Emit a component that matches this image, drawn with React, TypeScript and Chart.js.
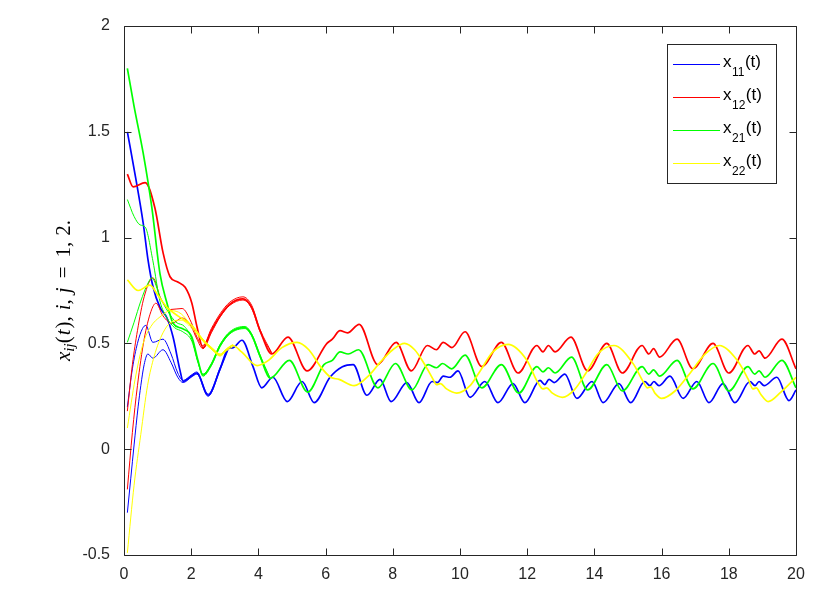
import React, { useEffect, useRef } from "react";
import { Chart, registerables } from "chart.js";

Chart.register(...registerables);

// ---- axes ----
const xMin = 0;
const xMax = 20;
const xStep = 2;
const yMin = -0.5;
const yMax = 2;
const yStep = 0.5;

const legendLabels = ["11", "12", "21", "22"];

// ---- x11 (blue) ----
const blueT = [0.1,0.35,0.57,0.71,0.86,1.07,1.28,1.46,1.67,1.76,2.0,2.17,2.5,2.86,3.1,3.25,3.51,3.84,4.1,4.43,4.86,5.3,5.66,6.13,6.5,6.82,7.23,7.62,7.95,8.42,8.78,9.17,9.33,9.5,9.7,9.94,10.3,10.74,11.13,11.58,11.93,12.38,12.52,12.65,12.8,13.12,13.48,13.93,14.26,14.73,15.08,15.5,15.65,15.77,15.92,16.25,16.64,17.05,17.41,17.83,18.18,18.63,18.78,18.9,19.05,19.43,19.79,20.0];
const blueV = [1.50,1.28,1.07,0.90,0.77,0.67,0.62,0.53,0.37,0.32,0.345,0.36,0.255,0.38,0.475,0.48,0.515,0.39,0.29,0.34,0.225,0.32,0.22,0.34,0.39,0.40,0.255,0.33,0.225,0.315,0.22,0.32,0.315,0.345,0.34,0.37,0.245,0.32,0.22,0.31,0.22,0.325,0.305,0.33,0.315,0.355,0.24,0.32,0.22,0.31,0.22,0.32,0.30,0.32,0.30,0.345,0.24,0.32,0.22,0.31,0.22,0.32,0.30,0.32,0.30,0.34,0.23,0.28];
const blue2T = [0.1,0.25,0.4,0.55,0.65,0.86,1.16,1.4,1.6,1.76,2.0,2.17,2.5,2.86,3.1];
const blue2V = [0.20,0.38,0.50,0.57,0.585,0.505,0.52,0.45,0.36,0.325,0.35,0.365,0.26,0.385,0.475];
const blue3T = [0.1,0.2,0.3,0.42,0.5,0.6,0.71,0.86,1.16,1.4,1.6,1.76,2.0,2.17,2.5,2.86,3.1];
const blue3V = [-0.30,-0.14,0.02,0.20,0.30,0.40,0.45,0.43,0.47,0.41,0.34,0.315,0.34,0.355,0.25,0.375,0.47];

// ---- x12 (red) ----
const redT = [0.1,0.27,0.63,0.92,1.16,1.37,1.6,1.82,2.02,2.17,2.35,2.6,2.86,3.15,3.54,3.8,4.05,4.4,4.88,5.45,6.04,6.2,6.43,6.65,7.0,7.55,8.1,8.55,9.03,9.3,9.5,9.76,10.15,10.65,11.23,11.73,12.29,12.47,12.63,12.83,13.3,13.8,14.37,14.83,15.42,15.62,15.76,15.94,16.46,16.93,17.53,18.0,18.57,18.77,18.9,19.08,19.58,20.0];
const redV = [1.30,1.24,1.26,1.14,0.93,0.815,0.79,0.765,0.69,0.58,0.48,0.56,0.63,0.685,0.71,0.67,0.56,0.45,0.53,0.37,0.50,0.52,0.56,0.55,0.59,0.40,0.505,0.37,0.49,0.47,0.505,0.48,0.555,0.39,0.505,0.36,0.49,0.46,0.49,0.46,0.53,0.37,0.50,0.36,0.49,0.45,0.475,0.435,0.52,0.38,0.50,0.36,0.49,0.45,0.465,0.43,0.52,0.38];
const red2T = [0.1,0.25,0.4,0.6,0.86,1.1,1.37,1.73,2.0,2.17,2.35,2.6,2.86,3.15,3.54,3.8,4.05,4.4];
const red2V = [0.18,0.40,0.56,0.72,0.81,0.71,0.66,0.665,0.60,0.53,0.49,0.57,0.64,0.695,0.72,0.68,0.565,0.455];
const red3T = [0.1,0.25,0.4,0.6,0.8,0.95,1.16,1.43,1.73,2.0,2.17,2.35,2.6,2.86,3.15,3.54,3.8,4.05,4.4];
const red3V = [-0.19,0.08,0.30,0.52,0.65,0.69,0.63,0.595,0.62,0.58,0.52,0.475,0.55,0.625,0.68,0.705,0.665,0.555,0.45];

// ---- x21 (green) ----
const greenT = [0.1,0.3,0.57,0.83,1.07,1.28,1.46,1.73,2.02,2.2,2.35,2.6,2.86,3.15,3.6,3.8,4.05,4.35,4.92,5.47,5.95,6.2,6.43,6.67,6.98,7.56,8.08,8.57,9.05,9.3,9.48,9.75,10.15,10.65,11.23,11.75,12.29,12.47,12.63,12.83,13.32,13.8,14.37,14.83,15.42,15.62,15.76,15.94,16.46,16.93,17.53,18.0,18.57,18.77,18.9,19.08,19.58,20.0];
const greenV = [1.80,1.62,1.40,1.14,0.83,0.69,0.595,0.57,0.53,0.42,0.35,0.40,0.49,0.55,0.575,0.54,0.44,0.335,0.42,0.27,0.40,0.42,0.46,0.45,0.47,0.29,0.405,0.28,0.40,0.385,0.405,0.38,0.445,0.29,0.40,0.265,0.39,0.365,0.385,0.36,0.435,0.28,0.40,0.275,0.39,0.355,0.375,0.345,0.42,0.285,0.405,0.275,0.39,0.355,0.37,0.34,0.42,0.29];
const green2T = [0.1,0.3,0.48,0.63,0.86,1.07,1.28,1.5,1.75,2.02,2.2,2.35,2.6,2.86,3.15,3.6,3.8,4.05,4.35];
const green2V = [1.18,1.10,1.06,1.05,0.89,0.70,0.62,0.575,0.555,0.51,0.41,0.355,0.405,0.495,0.555,0.58,0.545,0.445,0.335];
const green3T = [0.1,0.3,0.5,0.7,0.83,1.07,1.31,1.55,1.8,2.02,2.2,2.35,2.6,2.86,3.15,3.6,3.8,4.05,4.35];
const green3V = [0.505,0.60,0.70,0.78,0.81,0.72,0.65,0.60,0.58,0.52,0.415,0.345,0.395,0.485,0.545,0.57,0.535,0.435,0.335];

// ---- x22 (yellow) ----
const yellowT = [0.1,0.42,0.77,1.0,1.28,1.6,2.05,2.35,2.65,2.86,3.05,3.24,3.5,3.96,4.3,4.7,5.15,5.5,5.85,6.15,6.4,6.85,7.3,7.62,8.0,8.35,8.65,8.95,9.2,9.3,9.42,9.6,9.9,10.3,10.6,10.98,11.43,11.99,12.3,12.47,12.58,12.75,13.05,13.4,13.75,14.1,14.58,15.15,15.45,15.58,15.68,15.8,16.0,16.4,16.8,17.3,17.72,18.25,18.58,18.72,18.82,18.95,19.17,19.55,20.0];
const yellowV = [0.80,0.75,0.775,0.73,0.67,0.63,0.58,0.515,0.47,0.445,0.47,0.49,0.46,0.395,0.42,0.48,0.505,0.47,0.39,0.34,0.33,0.30,0.35,0.41,0.47,0.50,0.47,0.40,0.33,0.305,0.31,0.285,0.265,0.30,0.37,0.46,0.495,0.42,0.32,0.285,0.29,0.265,0.245,0.28,0.36,0.45,0.49,0.405,0.32,0.29,0.295,0.265,0.24,0.275,0.35,0.45,0.49,0.42,0.33,0.285,0.29,0.26,0.225,0.27,0.34];
const yellow2T = [0.1,0.33,0.57,0.8,1.07,1.4,1.7,2.0,2.35,2.65,2.86,3.05,3.24];
const yellow2V = [0.10,0.33,0.50,0.58,0.625,0.655,0.64,0.585,0.52,0.475,0.45,0.475,0.495];
const yellow3T = [0.1,0.3,0.5,0.7,0.9,1.16,1.4,1.7,2.0,2.35,2.65,2.86,3.05,3.24];
const yellow3V = [-0.49,-0.17,0.07,0.30,0.44,0.55,0.60,0.61,0.575,0.51,0.465,0.44,0.465,0.485];

const COLORS = ["#0000ff", "#ff0000", "#00ff00", "#ffff00"];
const AXIS_COLOR = "#262626";

function pts(t: number[], v: number[]) {
  return t.map((x, i) => ({ x, y: v[i] }));
}

function line(t: number[], v: number[], color: string, order: number, width: number) {
  return {
    data: pts(t, v),
    borderColor: color,
    backgroundColor: color,
    borderWidth: width,
    pointRadius: 0,
    fill: false,
    cubicInterpolationMode: "monotone" as const,
    order,
  };
}

const boxTicksPlugin = {
  id: "boxTicks",
  afterDatasetsDraw(chart: any) {
    const { ctx, chartArea } = chart;
    const { left, right, top, bottom } = chartArea;
    const xs = chart.scales.x;
    const ys = chart.scales.y;
    ctx.save();
    ctx.strokeStyle = AXIS_COLOR;
    ctx.lineWidth = 1;
    ctx.beginPath();
    ctx.rect(left + 0.5, top + 0.5, right - left, bottom - top);
    const tl = 7;
    for (let v = xMin; v <= xMax + 1e-9; v += xStep) {
      const px = Math.round(xs.getPixelForValue(v)) + 0.5;
      ctx.moveTo(px, bottom + 0.5);
      ctx.lineTo(px, bottom + 0.5 - tl);
      ctx.moveTo(px, top + 0.5);
      ctx.lineTo(px, top + 0.5 + tl);
    }
    for (let v = yMin; v <= yMax + 1e-9; v += yStep) {
      const py = Math.round(ys.getPixelForValue(v)) + 0.5;
      ctx.moveTo(left + 0.5, py);
      ctx.lineTo(left + 0.5 + tl, py);
      ctx.moveTo(right + 0.5, py);
      ctx.lineTo(right + 0.5 - tl, py);
    }
    ctx.stroke();
    ctx.restore();
  },
};

const legendPlugin = {
  id: "texLegend",
  afterDraw(chart: any) {
    const ctx = chart.ctx;
    ctx.save();
    const bx = 667.5, by = 44.5, bw = 109, bh = 139;
    ctx.fillStyle = "#ffffff";
    ctx.fillRect(bx, by, bw, bh);
    ctx.strokeStyle = AXIS_COLOR;
    ctx.lineWidth = 1;
    ctx.strokeRect(bx, by, bw, bh);
    const rows = [64, 97, 130, 163];
    rows.forEach((ry, i) => {
      ctx.strokeStyle = COLORS[i];
      ctx.lineWidth = 1;
      ctx.beginPath();
      ctx.moveTo(673, ry + 0.5);
      ctx.lineTo(720, ry + 0.5);
      ctx.stroke();
      ctx.fillStyle = "#000000";
      ctx.textBaseline = "alphabetic";
      ctx.textAlign = "left";
      let x = 723;
      ctx.font = '17px "Liberation Sans", Arial, sans-serif';
      ctx.fillText("x", x, ry + 3);
      x += ctx.measureText("x").width + 0.5;
      ctx.font = '12px "Liberation Sans", Arial, sans-serif';
      ctx.fillText(legendLabels[i], x, ry + 12);
      x += ctx.measureText(legendLabels[i]).width + 0.5;
      ctx.font = '17px "Liberation Sans", Arial, sans-serif';
      ctx.fillText("(t)", x, ry + 3);
    });
    ctx.restore();
  },
};

const yTitlePlugin = {
  id: "texYTitle",
  afterDraw(chart: any) {
    const ctx = chart.ctx;
    const { top, bottom } = chart.chartArea;
    const fam = '"Liberation Serif", "Times New Roman", serif';
    const big = 21;
    const small = 15;
    const it = `italic ${big}px ${fam}`;
    const up = `${big}px ${fam}`;
    const sub = `italic ${small}px ${fam}`;
    const segs: { t: string; f: string; dy: number; gap?: number }[] = [
      { t: "x", f: it, dy: 0 },
      { t: "ij", f: sub, dy: 4 },
      { t: "(", f: up, dy: 0, gap: 1 },
      { t: "t", f: it, dy: 0, gap: 1 },
      { t: ")", f: up, dy: 0 },
      { t: ",", f: up, dy: 0, gap: 6 },
      { t: "i", f: it, dy: 0 },
      { t: ",", f: up, dy: 0, gap: 6 },
      { t: "j", f: it, dy: 0, gap: 9 },
      { t: "=", f: up, dy: 0, gap: 9 },
      { t: "1", f: up, dy: 0 },
      { t: ",", f: up, dy: 0, gap: 6 },
      { t: "2", f: up, dy: 0 },
      { t: ".", f: up, dy: 0 },
    ];
    ctx.save();
    let total = 0;
    for (const s of segs) {
      ctx.font = s.f;
      total += ctx.measureText(s.t).width + (s.gap || 0);
    }
    ctx.translate(70, (top + bottom) / 2);
    ctx.rotate(-Math.PI / 2);
    ctx.fillStyle = "#000000";
    ctx.textBaseline = "alphabetic";
    ctx.textAlign = "left";
    let x = -total / 2;
    for (const s of segs) {
      ctx.font = s.f;
      ctx.fillText(s.t, x, s.dy);
      x += ctx.measureText(s.t).width + (s.gap || 0);
    }
    ctx.restore();
  },
};

export default function App() {
  const ref = useRef<HTMLCanvasElement | null>(null);

  useEffect(() => {
    if (!ref.current) return;
    const datasets = [
      line(blueT, blueV, COLORS[0], 8, 1.7),
      line(blue2T, blue2V, COLORS[0], 8, 1),
      line(blue3T, blue3V, COLORS[0], 8, 1),
      line(redT, redV, COLORS[1], 6, 1.7),
      line(red2T, red2V, COLORS[1], 6, 1),
      line(red3T, red3V, COLORS[1], 6, 1),
      line(greenT, greenV, COLORS[2], 4, 1.7),
      line(green2T, green2V, COLORS[2], 4, 1),
      line(green3T, green3V, COLORS[2], 4, 1),
      line(yellowT, yellowV, COLORS[3], 2, 1.7),
      line(yellow2T, yellow2V, COLORS[3], 2, 1),
      line(yellow3T, yellow3V, COLORS[3], 2, 1),
    ];
    const tickFont = { family: '"Liberation Sans", Arial, sans-serif', size: 16 };
    const chart = new Chart(ref.current, {
      type: "line",
      data: { datasets },
      options: {
        animation: false,
        responsive: false,
        devicePixelRatio: 1,
        layout: { padding: { left: 0, top: 26, right: 31, bottom: 0 } },
        plugins: {
          legend: { display: false },
          tooltip: { enabled: false },
          title: { display: false },
        },
        scales: {
          x: {
            type: "linear",
            min: xMin,
            max: xMax,
            grid: { display: false, drawTicks: false },
            border: { display: false },
            ticks: {
              stepSize: xStep,
              color: AXIS_COLOR,
              font: tickFont,
              padding: 10,
              maxRotation: 0,
              callback: (v: any) => String(Number(v)),
            },
            afterFit: (s: any) => { s.height = 37; },
          },
          y: {
            type: "linear",
            min: yMin,
            max: yMax,
            grid: { display: false, drawTicks: false },
            border: { display: false },
            ticks: {
              stepSize: yStep,
              color: AXIS_COLOR,
              font: tickFont,
              padding: 14,
              callback: (v: any) => String(Number(v)),
            },
            afterFit: (s: any) => { s.width = 124; },
          },
        },
      } as any,
      plugins: [boxTicksPlugin, legendPlugin, yTitlePlugin],
    });
    return () => chart.destroy();
  }, []);

  return (
    <div style={{ position: "fixed", left: 0, top: 0, width: 827, height: 592, background: "#fff" }}>
      <canvas ref={ref} width={827} height={592} style={{ display: "block" }} />
    </div>
  );
}
